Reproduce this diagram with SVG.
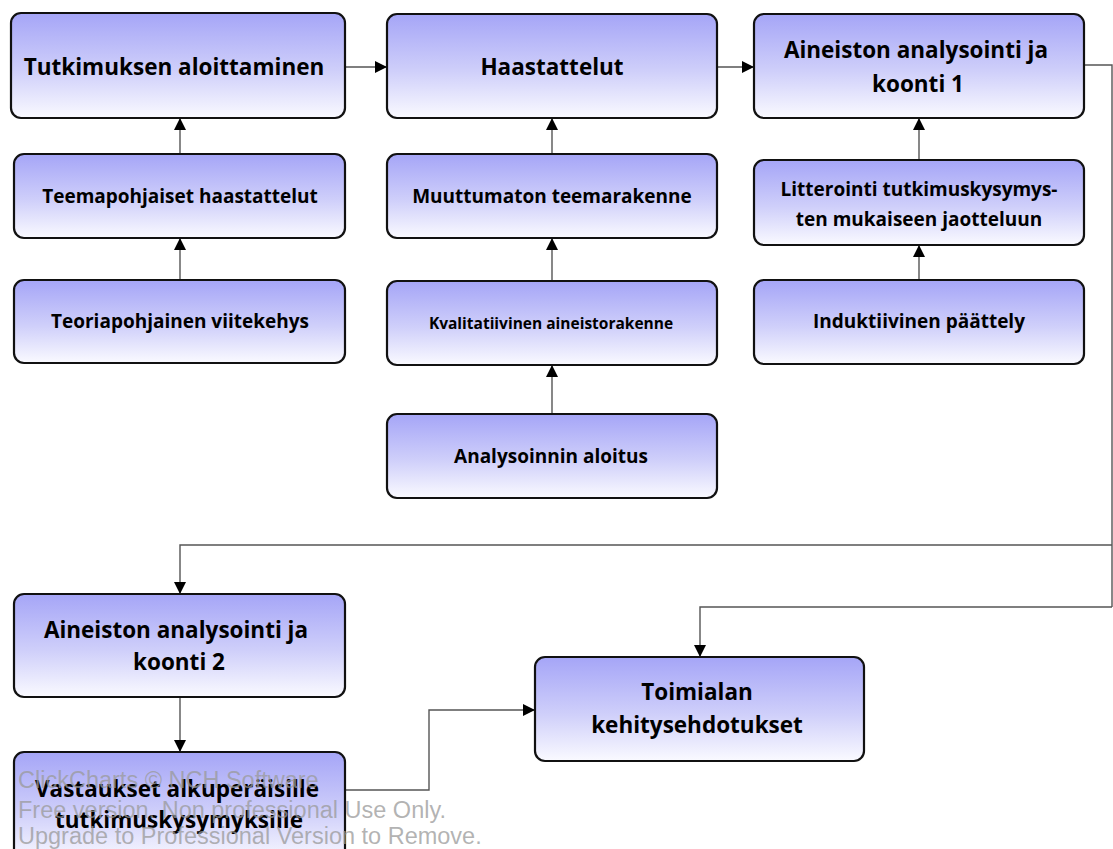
<svg xmlns="http://www.w3.org/2000/svg" width="1113" height="849" viewBox="0 0 1113 849">
<defs>
<linearGradient id="g" x1="0" y1="0" x2="0" y2="1">
<stop offset="0" stop-color="#a5a5f7"/>
<stop offset="0.55" stop-color="#cfcffa"/>
<stop offset="1" stop-color="#fafaff"/>
</linearGradient>
<marker id="a" viewBox="0 0 12 12" refX="12" refY="6" markerWidth="12" markerHeight="12" markerUnits="userSpaceOnUse" orient="auto">
<path d="M0,0 L12,6 L0,12 Z" fill="#000"/>
</marker>
</defs>
<style>
.n rect{fill:url(#g);stroke:#111;stroke-width:2.2}
.n text{font-family:"Open Sans",Lato,sans-serif;font-weight:bold;fill:#000;text-anchor:middle}
.big{font-size:22.5px}
.mid{font-size:19px}
.sm{font-size:15.5px}
.c path{fill:none;stroke:#555;stroke-width:1.4;marker-end:url(#a)}
.c path.p{marker-end:none}
#watermark text{font-family:"Liberation Sans",Arial,sans-serif;font-size:23.5px;fill:#9a9a9a;fill-opacity:0.75}
</style>
<rect width="1113" height="849" fill="#fff"/>
<g class="c">
<path d="M345,67 H387"/>
<path d="M717,67 H754"/>
<path d="M180,154 V118"/>
<path d="M180,280 V238"/>
<path d="M552,154 V118"/>
<path d="M552,281 V238"/>
<path d="M552,414 V365"/>
<path d="M919,160 V118"/>
<path d="M919,280 V245"/>
<path class="p" d="M1084,65 H1112 V607"/>
<path d="M1112,545 H180 V594"/>
<path d="M1112,607 H700 V657"/>
<path d="M180,697 V752"/>
<path d="M345,790 H429 V710 H535"/>
</g>
<g id="n1" class="n"><rect x="11" y="13" width="334" height="105" rx="10"/><text class="big" x="174" y="75">Tutkimuksen aloittaminen</text></g>
<g id="n2" class="n"><rect x="387" y="14" width="330" height="104" rx="10"/><text class="big" x="552" y="75">Haastattelut</text></g>
<g id="n3" class="n"><rect x="754" y="14" width="330" height="104" rx="10"/><text class="big" x="916" y="58">Aineiston analysointi ja</text><text class="big" x="918" y="92">koonti 1</text></g>
<g id="n4" class="n"><rect x="14" y="154" width="331" height="84" rx="10"/><text class="mid" x="180" y="203">Teemapohjaiset haastattelut</text></g>
<g id="n5" class="n"><rect x="387" y="154" width="330" height="84" rx="10"/><text class="mid" x="552" y="203">Muuttumaton teemarakenne</text></g>
<g id="n6" class="n"><rect x="754" y="160" width="330" height="85" rx="10"/><text class="mid" x="919" y="196">Litterointi tutkimuskysymys-</text><text class="mid" x="919" y="226">ten mukaiseen jaotteluun</text></g>
<g id="n7" class="n"><rect x="14" y="280" width="331" height="83" rx="10"/><text class="mid" x="180" y="328">Teoriapohjainen viitekehys</text></g>
<g id="n8" class="n"><rect x="387" y="281" width="330" height="84" rx="10"/><text class="sm" x="551" y="329">Kvalitatiivinen aineistorakenne</text></g>
<g id="n9" class="n"><rect x="387" y="414" width="330" height="84" rx="10"/><text class="mid" x="551" y="463">Analysoinnin aloitus</text></g>
<g id="n10" class="n"><rect x="754" y="280" width="330" height="84" rx="10"/><text class="mid" x="919" y="328">Induktiivinen päättely</text></g>
<g id="n11" class="n"><rect x="14" y="594" width="331" height="103" rx="10"/><text class="big" x="176" y="638">Aineiston analysointi ja</text><text class="big" x="179" y="670">koonti 2</text></g>
<g id="n12" class="n"><rect x="535" y="657" width="329" height="104" rx="10"/><text class="big" x="697" y="700">Toimialan</text><text class="big" x="697" y="733">kehitysehdotukset</text></g>
<g id="n13" class="n"><rect x="14" y="752" width="331" height="110" rx="10"/><text class="big" x="177" y="797">Vastaukset alkuperäisille</text><text class="big" x="179" y="828">tutkimuskysymyksille</text></g>
<g id="watermark">
<text x="18" y="788" fill-opacity="0.45">ClickCharts © NCH Software</text>
<text x="18" y="818">Free version. Non professional Use Only.</text>
<text x="18" y="844">Upgrade to Professional Version to Remove.</text>
</g>
</svg>
